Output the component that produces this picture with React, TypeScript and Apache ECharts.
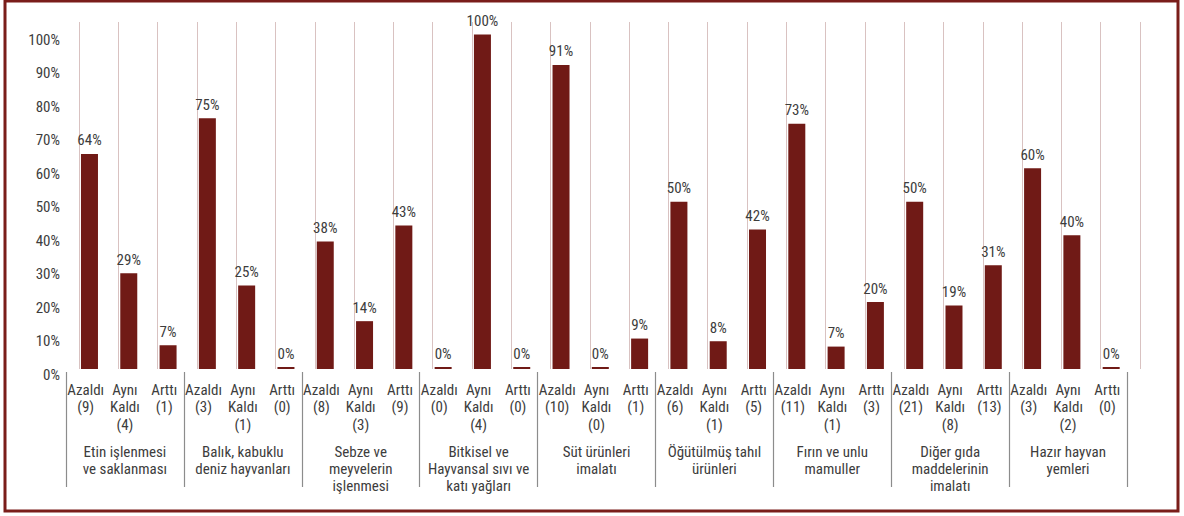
import React, { useEffect, useRef } from "react";
import * as echarts from "echarts";

const groups = [
  "Etin işlenmesi\nve saklanması",
  "Balık, kabuklu\ndeniz hayvanları",
  "Sebze ve\nmeyvelerin\nişlenmesi",
  "Bitkisel ve\nHayvansal sıvı ve\nkatı yağları",
  "Süt ürünleri\nimalatı",
  "Öğütülmüş tahıl\nürünleri",
  "Fırın ve unlu\nmamuller",
  "Diğer gıda\nmaddelerinin\nimalatı",
  "Hazır hayvan\nyemleri",
];

const changeTypes = ["Azaldı", "Aynı\nKaldı", "Arttı"];

// firm counts per group: [Azaldı, Aynı Kaldı, Arttı]
const counts = [
  [9, 4, 1],
  [3, 1, 0],
  [8, 3, 9],
  [0, 4, 0],
  [10, 0, 1],
  [6, 1, 5],
  [11, 1, 3],
  [21, 8, 13],
  [3, 2, 0],
];

// share (%) per group: [Azaldı, Aynı Kaldı, Arttı]
const shares = [
  [64.3, 28.6, 7.1],
  [75, 25, 0],
  [38.1, 14.3, 42.9],
  [0, 100, 0],
  [90.9, 0, 9.1],
  [50, 8.3, 41.7],
  [73.3, 6.7, 20],
  [50, 19, 31],
  [60, 40, 0],
];

const yTicks = [0, 10, 20, 30, 40, 50, 60, 70, 80, 90, 100];

const FONT = "'Roboto Condensed', 'DejaVu Sans Condensed', sans-serif";
const TEXT = "#3d3d3d";
const BAR = "#701a16";
const FS = 15;

export default function App() {
  const ref = useRef<HTMLDivElement>(null);
  useEffect(() => {
    if (!ref.current) return;
    const chart = echarts.init(ref.current, null, { renderer: "svg" });
    const categories: string[] = [];
    const values: number[] = [];
    groups.forEach((_, gi) => {
      changeTypes.forEach((t, ti) => {
        categories.push(`${t}\n(${counts[gi][ti]})`);
        values.push(shares[gi][ti]);
      });
    });
    const placeholder = values.map(() => null);

    chart.setOption({
      animation: false,
      backgroundColor: "#ffffff",
      textStyle: { fontFamily: FONT },
      grid: [
        { left: 66, right: 57, top: 34.5, bottom: 147, containLabel: false },
        { left: 79, right: 44, top: 22, bottom: 147, containLabel: false },
      ],
      xAxis: [
        {
          type: "category",
          gridIndex: 0,
          data: categories,
          axisLine: { show: false },
          axisTick: { show: false },
          axisLabel: {
            interval: 0,
            margin: 12,
            color: TEXT,
            fontSize: FS,
            lineHeight: 17.5,
            fontFamily: FONT,
          },
          splitLine: { show: false },
        },
        {
          type: "category",
          gridIndex: 0,
          position: "bottom",
          offset: 3,
          data: groups,
          axisLine: { show: false },
          axisTick: {
            show: true,
            interval: 0,
            length: 115,
            lineStyle: { color: "#8c8c8c", width: 1.2 },
          },
          axisLabel: {
            interval: 0,
            margin: 71,
            color: TEXT,
            fontSize: FS,
            lineHeight: 17,
            fontFamily: FONT,
          },
          splitLine: { show: false },
        },
        {
          type: "category",
          gridIndex: 1,
          data: categories,
          axisLine: { show: false },
          axisTick: { show: false },
          axisLabel: { show: false },
          splitLine: {
            show: true,
            interval: 0,
            lineStyle: { color: "#d9c2c1", width: 1 },
          },
        },
      ],
      yAxis: [
        {
          type: "value",
          gridIndex: 0,
          min: 0,
          max: 100,
          interval: 10,
          axisLine: { show: false },
          axisTick: { show: false },
          splitLine: { show: false },
          axisLabel: {
            margin: 6,
            color: TEXT,
            fontSize: FS,
            fontFamily: FONT,
            verticalAlign: "top",
            lineHeight: 11,
            formatter: (v: number) => (yTicks.includes(v) ? `${v}%` : ""),
          },
        },
        { type: "value", gridIndex: 1, show: false, min: 0, max: 100 },
      ],
      series: [
        {
          type: "bar",
          xAxisIndex: 0,
          yAxisIndex: 0,
          data: placeholder,
          barWidth: 17,
          barGap: "-55%",
          silent: true,
        },
        {
          type: "bar",
          xAxisIndex: 0,
          yAxisIndex: 0,
          data: values,
          barWidth: 17,
          barGap: "-55%",
          barMinHeight: 2,
          itemStyle: { color: BAR },
          label: {
            show: true,
            position: "top",
            distance: 6,
            color: TEXT,
            fontSize: FS,
            fontFamily: FONT,
            formatter: (p: any) => `${Math.round(p.value)}%`,
          },
        },
      ],
      graphic: [
        {
          type: "rect",
          shape: { x: 5, y: 1, width: 1173, height: 510 },
          style: { fill: "none", stroke: "#7a1d1a", lineWidth: 3 },
          silent: true,
        },
      ],
    });
    return () => chart.dispose();
  }, []);
  return (
    <div
      ref={ref}
      style={{ position: "fixed", left: 0, top: 0, width: 1184, height: 516, background: "#fff" }}
    />
  );
}
